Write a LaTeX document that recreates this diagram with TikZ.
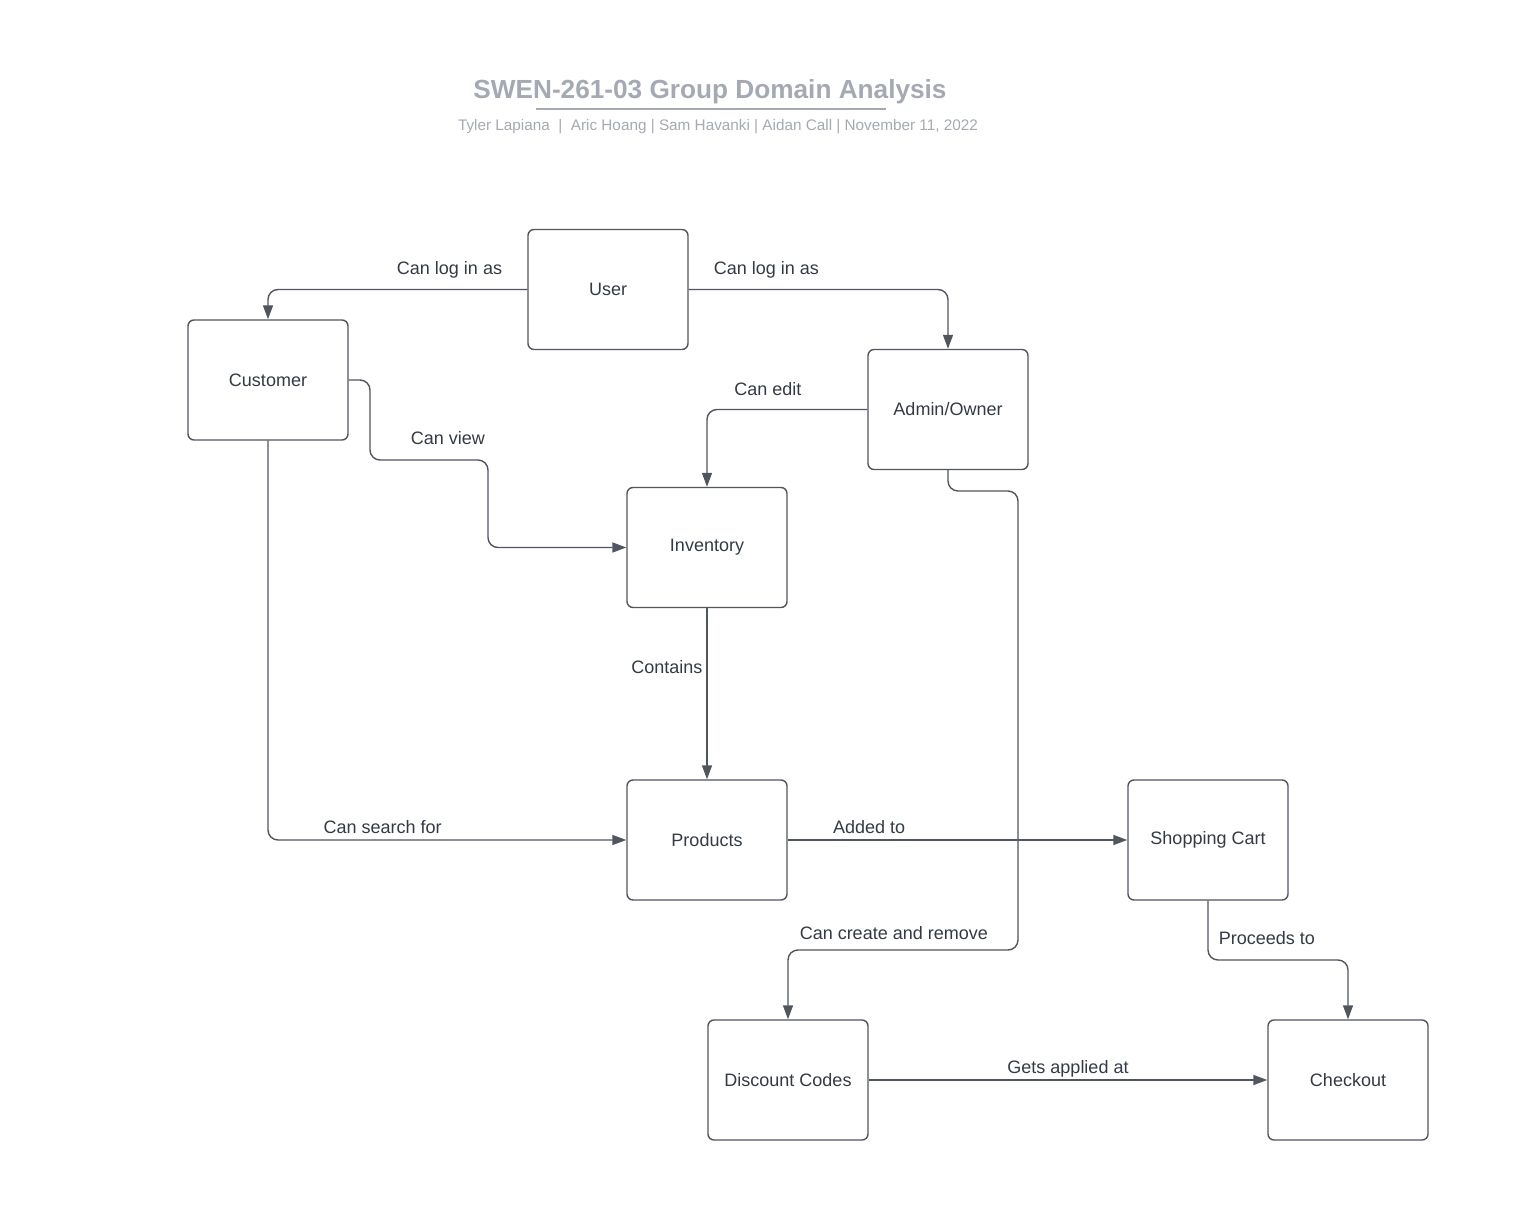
\documentclass[tikz,border=0pt]{standalone}
\usepackage{fontspec}
\setmainfont{Liberation Sans}
\usetikzlibrary{positioning, arrows.meta}

\definecolor{ink}{HTML}{333A45}
\definecolor{wire}{HTML}{50555E}
\definecolor{faded}{HTML}{A4A9B3}

\tikzset{
	entity/.style={draw=wire, line width=0.7pt, rounded corners=3pt, minimum width=80pt, minimum height=60pt, text=ink, font=\fontsize{9}{10}\selectfont},
	link/.style={draw=wire, line width=0.7pt, rounded corners=5pt, -{Triangle[length=7pt, width=5pt]}},
	lbl/.style={text=ink, font=\fontsize{9}{10}\selectfont, inner xsep=2pt, inner ysep=0.8pt, text height=0.7em, text depth=0.2em}
}

\begin{document}
\begin{tikzpicture}[x=0.5pt, y=-0.5pt]
	\useasboundingbox (0,0) rectangle (1531,1224);

	\node[text=faded, font=\bfseries\fontsize{13.1}{16}\selectfont] (title) at (710,91.5) {SWEN-261-03 Group Domain Analysis};
	\coordinate (ulL) at (536,109);
	\coordinate (ulR) at (886,109);
	\draw[faded, line width=1pt] (ulL) -- (ulR);
	\node[text=faded, font=\fontsize{7.65}{9}\selectfont] (authors) at (718,127) {Tyler Lapiana \ |\ \ Aric Hoang | Sam Havanki | Aidan Call | November 11, 2022};

	\node[entity] (user) at (608,289.5) {User};
	\node[entity] (customer) at (268,380) {Customer};
	\node[entity] (admin) at (948,409.5) {Admin/Owner};
	\node[entity] (inventory) at (707,547.5) {Inventory};
	\node[entity] (products) at (707,840) {Products};
	\node[entity] (cart) at (1208,840) {Shopping Cart};
	\node[entity] (discount) at (788,1080) {Discount Codes};
	\node[entity] (checkout) at (1348,1080) {Checkout};

	\draw[link] (user.west) -| node[lbl, above, pos=0.15, yshift=4.5pt] {Can log in as} (customer.north);
	\draw[link] (user.east) -| node[lbl, above, pos=0.15, yshift=4.5pt] {Can log in as} (admin.north);
	\draw[link] (customer.east) -- (370,380) -- (370,460) -- node[lbl, above, pos=0.66, yshift=4.5pt] {Can view} (488,460) |- (inventory.west);
	\draw[link] (admin.west) -| node[lbl, above, pos=0.31, yshift=4pt] {Can edit} (inventory.north);
	\draw[link] (customer.south) |- node[lbl, above, pos=0.66] {Can search for} (products.west);
	\draw[link] (inventory.south) -- node[lbl, left, pos=0.35] {Contains} (products.north);
	\draw[link] (products.east) -- node[lbl, above, pos=0.24] {Added to} (cart.west);
	\draw[link] (admin.south) -- (948,491) -| (1018,950) -| node[lbl, above, pos=0.27, yshift=2pt] {Can create and remove} (discount.north);
	\draw[link] (cart.south) -- (1208,960) -| node[lbl, above, pos=0.21, yshift=4.5pt] {Proceeds to} (checkout.north);
	\draw[link] (discount.east) -- node[lbl, above] {Gets applied at} (checkout.west);
\end{tikzpicture}
\end{document}
